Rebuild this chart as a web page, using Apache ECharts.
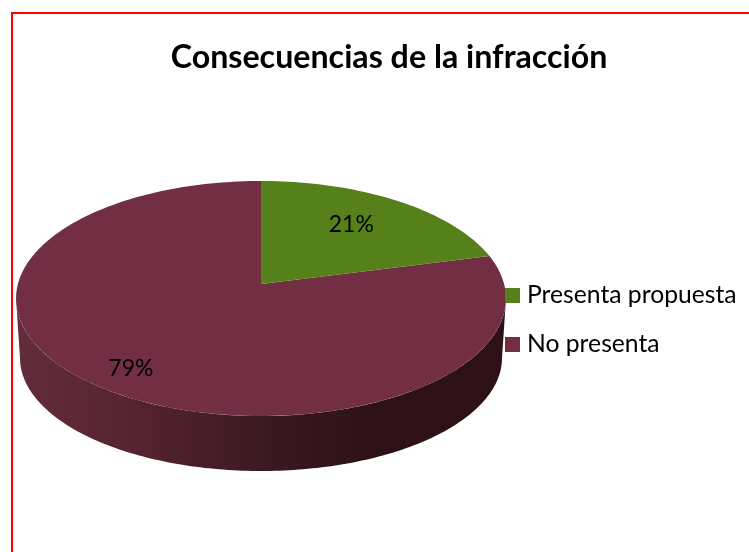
<!DOCTYPE html>
<html>
<head>
<meta charset="utf-8">
<style>html,body{margin:0;padding:0;background:#fff}#c{width:749px;height:552px}</style>
<script src="https://cdn.jsdelivr.net/npm/echarts@6/dist/echarts.min.js"></script>
</head>
<body>
<div id="c"></div>
<script>
const titleText = 'Consecuencias de la infracción';
const categories = ['Presenta propuesta', 'No presenta'];
const values = [21, 79];
const colors = ['#56801a', '#722e43'];

const FONT = 'Lato';
const total = values.reduce((a, b) => a + b, 0);
// View of the tilted disc: top face ellipse, bottom rim ellipse and the perspective factors
const TOP = { cx: 261, cy: 298.5, rx: 245, ry: 117.5 };
const BOTTOM = { cx: 261, cy: 358, rx: 241, ry: 113 };
const PERSP = { k: -0.1234, a: 117.5, b: -14.5, c: 243.1 };
const LABEL_SPOT = [{ r: 0.69, dx: -6 }, { r: 0.85, dx: 8 }];

function project(theta, r) {
  const x = r * Math.sin(theta), y = -r * Math.cos(theta);
  const d = 1 + PERSP.k * y;
  return [TOP.cx + PERSP.c * x / d, TOP.cy + (PERSP.a * y + PERSP.b) / d];
}
function sectorPoints(from, to) {
  const pts = [project(0, 0)];
  const n = Math.max(2, Math.ceil((to - from) * 240));
  for (let i = 0; i <= n; i++) {
    pts.push(project((from + (to - from) * i / n) * 2 * Math.PI, 1));
  }
  return pts;
}
function wallPoints() {
  const pts = [], n = 160;
  for (let i = 0; i <= n; i++) {
    const t = Math.PI * i / n;
    pts.push([TOP.cx + TOP.rx * Math.cos(t), TOP.cy + TOP.ry * Math.sin(t)]);
  }
  for (let i = n; i >= 0; i--) {
    const t = Math.PI * i / n;
    pts.push([BOTTOM.cx + BOTTOM.rx * Math.cos(t), BOTTOM.cy + BOTTOM.ry * Math.sin(t)]);
  }
  return pts;
}
function renderSlice(idx) {
  return function (params, api) {
    const v = api.value(0);
    const from = values.slice(0, idx).reduce((a, b) => a + b, 0) / total;
    const to = from + v / total;
    const children = [];
    if (idx === 1) {
      children.push({
        type: 'polygon', shape: { points: wallPoints() }, silent: true,
        style: {
          fill: {
            type: 'linear', x: 0, y: 0, x2: 1, y2: 0,
            colorStops: [
              { offset: 0, color: '#632c3c' },
              { offset: 0.25, color: '#55232f' },
              { offset: 0.5, color: '#3c1923' },
              { offset: 0.72, color: '#2d1117' },
              { offset: 1, color: '#2d1117' }
            ]
          }
        }
      });
    }
    children.push({
      type: 'polygon', shape: { points: sectorPoints(from, to) },
      style: { fill: colors[idx] }
    });
    const spot = LABEL_SPOT[idx];
    const p = project((from + to) * Math.PI, spot.r);
    children.push({
      type: 'text',
      style: {
        x: p[0] + spot.dx, y: p[1], text: Math.round(v / total * 100) + '%',
        fill: '#000', font: '23px ' + FONT, align: 'center', verticalAlign: 'middle'
      }
    });
    return { type: 'group', children };
  };
}

const chart = echarts.init(document.getElementById('c'), null, { renderer: 'canvas' });
chart.setOption({
  animation: false,
  backgroundColor: '#ffffff',
  title: {
    text: titleText, left: 384, top: 37, textAlign: 'center',
    textStyle: { fontFamily: FONT, fontWeight: 'bold', fontSize: 32.2, color: '#000' }
  },
  legend: {
    orient: 'vertical', left: 505, top: 283, itemWidth: 15, itemHeight: 15, itemGap: 24, padding: 0,
    data: categories.map((name, i) => ({ name, icon: 'rect', itemStyle: { color: colors[i] } })),
    textStyle: { fontFamily: FONT, fontSize: 24.7, color: '#000', padding: [0, 0, 0, 2], lineHeight: 15 },
    selectedMode: false
  },
  graphic: [{
    type: 'rect', silent: true, z: 0,
    shape: { x: 12, y: 13, width: 800, height: 600 },
    style: { fill: 'none', stroke: '#ff0000', lineWidth: 2 }
  }],
  series: categories.map((name, i) => ({
    type: 'custom', name, coordinateSystem: 'none',
    z: i === 0 ? 3 : 2,
    itemStyle: { color: colors[i] },
    data: [[values[i]]],
    renderItem: renderSlice(i)
  }))
});
</script>
</body>
</html>
